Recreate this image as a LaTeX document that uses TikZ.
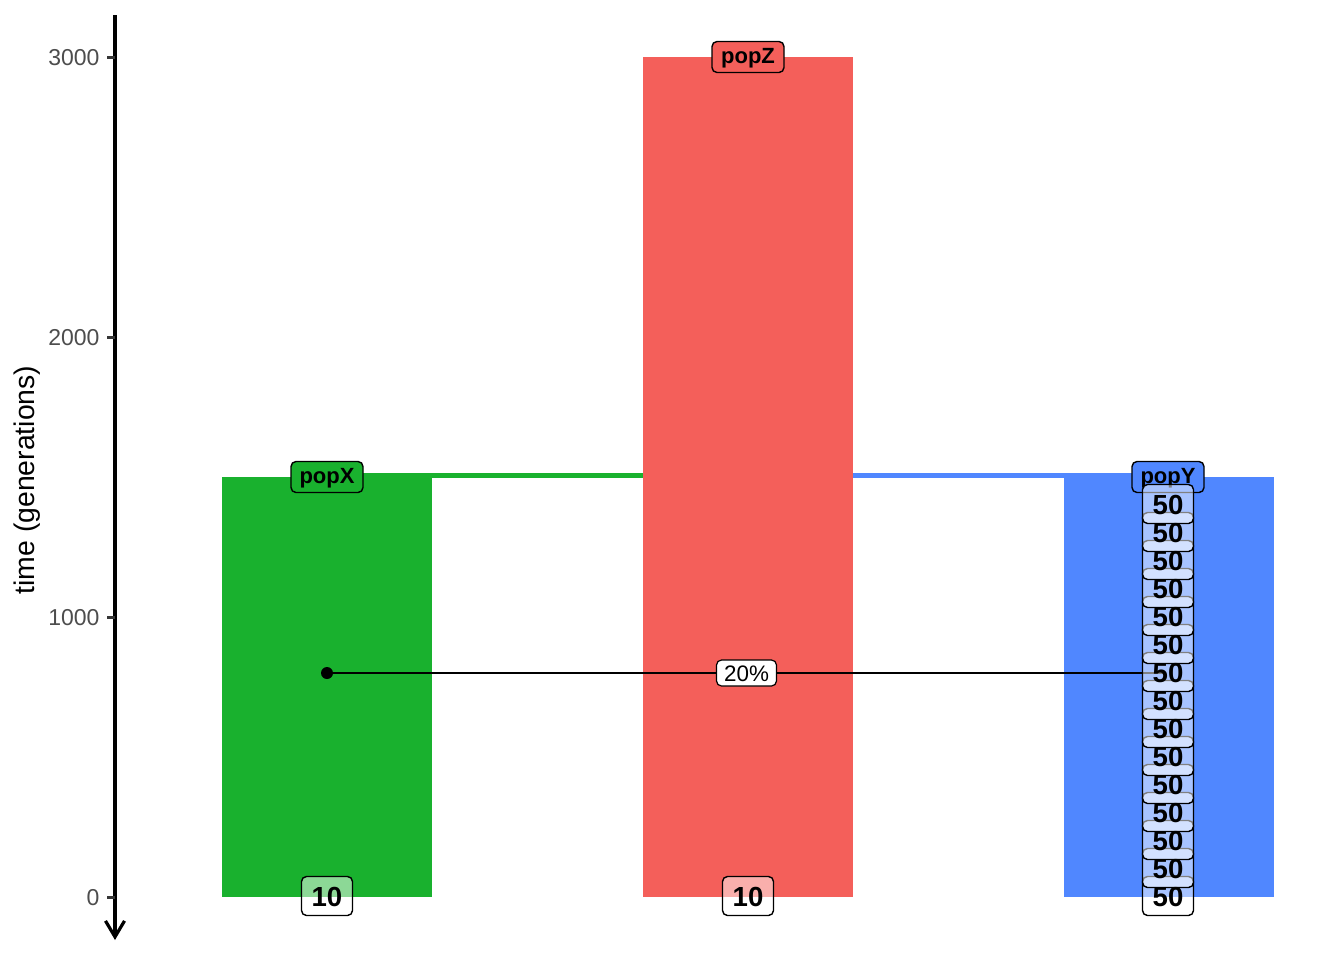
\documentclass[tikz,border=0pt]{standalone}
\usepackage{fontspec}
\setmainfont{Liberation Sans}
\usetikzlibrary{arrows.meta}
\definecolor{cX}{HTML}{19B12E}
\definecolor{cZ}{HTML}{F45F5A}
\definecolor{cY}{HTML}{5087FF}
\definecolor{tickgrey}{HTML}{4D4D4D}
\begin{document}
\begin{tikzpicture}[x=0.5pt,y=-0.5pt,
  bar/.style={inner sep=0pt, minimum width=105pt, anchor=south},
  poplab/.style={draw=black, line width=0.7pt, rounded corners=2.5pt, inner sep=0pt,
     minimum width=36pt, minimum height=15.5pt, text height=8pt, text depth=1.2pt,
     font=\fontsize{11}{13}\selectfont\bfseries},
  sizelab/.style={draw=black, line width=0.7pt, rounded corners=2.5pt, inner sep=0pt,
     minimum width=25.5pt, minimum height=19.5pt, text height=10pt, text depth=-0.8pt,
     fill=white, fill opacity=0.5, text opacity=1, draw opacity=1,
     font=\fontsize{13.8}{15}\selectfont\bfseries},
  pctlab/.style={draw=black, line width=0.6pt, rounded corners=2.5pt, inner sep=0pt,
     minimum width=30pt, minimum height=13pt, text height=8pt, text depth=-0.6pt,
     fill=white, font=\fontsize{11.2}{13}\selectfont},
  conn/.style={line width=2.5pt},
  tick/.style={line width=1.5pt, tickgrey!70!black},
  ticklab/.style={anchor=east, inner sep=0pt, text=tickgrey, font=\fontsize{11.5}{13}\selectfont},
  mig/.style={line width=1.3pt, black}
]
\useasboundingbox (0,0) rectangle (1344,960);

% bars
\node[bar, fill=cX, minimum height=210pt] (barX) at (327,897) {};
\node[bar, fill=cZ, minimum height=420pt] (barZ) at (748,897) {};
\node[bar, fill=cY, minimum height=210pt] (barY) at (1169,897) {};

% split connectors
\draw[conn, cX] ([yshift=0.5pt]barX.north) -- ([yshift=0.5pt]barX.north -| barZ.west);
\draw[conn, cY] ([yshift=0.5pt]barY.north) -- ([yshift=0.5pt]barY.north -| barZ.east);

% axis
\coordinate (axtop) at (115,15);
\coordinate (axbot) at (115,940);
\draw[line width=1.6pt, -{Straight Barb[length=8pt,width=9.5pt]}] (axtop) -- (axbot);
\foreach \t/\y in {3000/57, 2000/337, 1000/617, 0/897}{
  \coordinate (tk\t) at (115,\y);
  \draw[tick] (tk\t) -- ++(-8,0) node[ticklab, xshift=-3pt, yshift=-0.5pt] (tl\t) {\t};
}
\node[rotate=90, font=\fontsize{14.2}{16}\selectfont, inner sep=0pt] (ytitle) at (27,480) {time (generations)};

% population labels
\node[poplab, fill=cX] (lX) at (327,477) {popX};
\node[poplab, fill=cZ] (lZ) at (748,57) {popZ};
\node[poplab, fill=cY] (lY) at (1168,477) {popY};

% migration
\node[circle, fill=black, inner sep=0pt, minimum size=6pt] (mX) at (327,673) {};
\coordinate (mY) at (1166,673);
\draw[mig] (mX.center) -- (mY) node[pctlab, midway] (pct) {20\%};

% size labels
\node[sizelab] (sX) at (327,896) {10};
\node[sizelab] (sZ) at (748,896) {10};
\foreach \i in {0,...,14}{
  \pgfmathtruncatemacro{\yy}{896-28*\i}
  \node[sizelab] (sY\i) at (1168,\yy) {50};
}
\end{tikzpicture}
\end{document}
